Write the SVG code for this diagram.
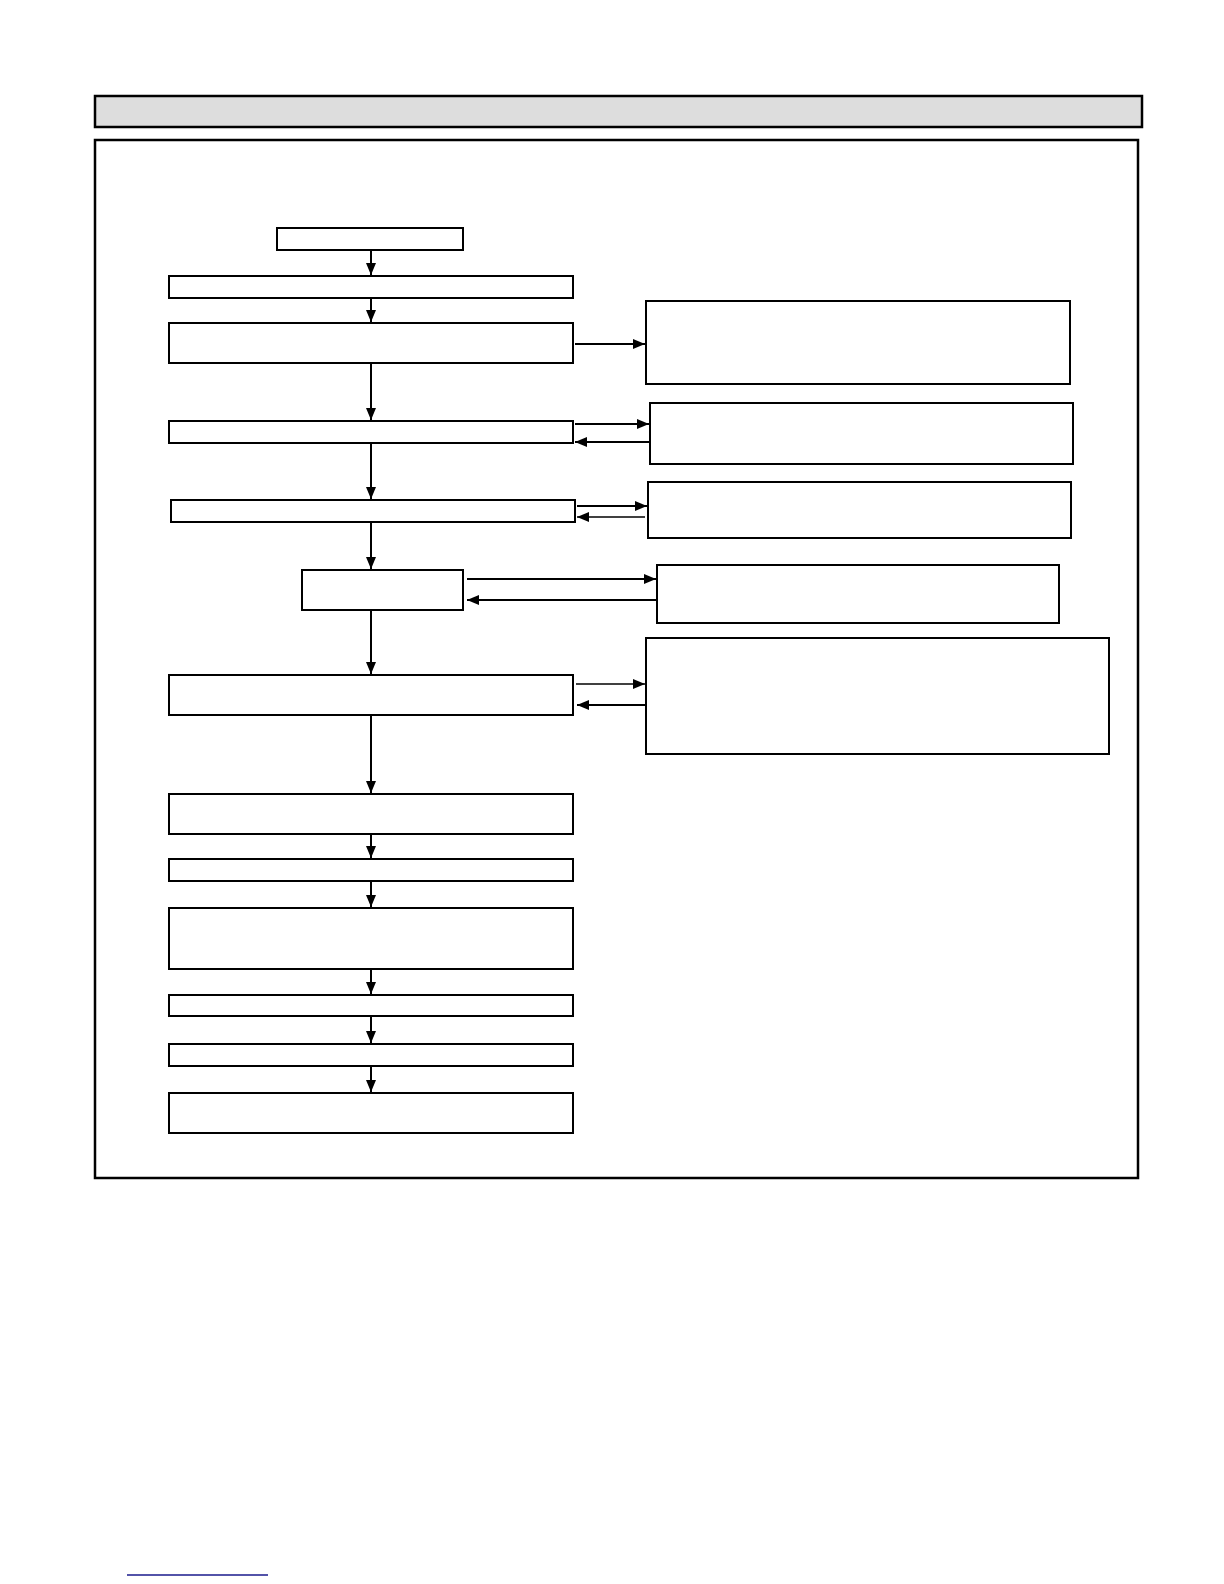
<svg xmlns="http://www.w3.org/2000/svg" width="1224" height="1584" viewBox="0 0 1224 1584">
<style>
.n{fill:#fff;stroke:#000;stroke-width:2}
.c{stroke:#000;stroke-width:2;fill:none;marker-end:url(#a)}
</style>
<defs><marker id="a" viewBox="0 0 10 10" refX="10" refY="5" markerWidth="6" markerHeight="6" markerUnits="userSpaceOnUse" orient="auto"><path d="M0,0L10,5L0,10z" fill="#000" transform="scale(1)"/></marker>
<marker id="b" viewBox="0 0 10 10" refX="10" refY="5" markerWidth="12" markerHeight="10" markerUnits="userSpaceOnUse" orient="auto" preserveAspectRatio="none"><path d="M0,0L10,5L0,10z" fill="#000"/></marker></defs>
<rect width="1224" height="1584" fill="#fff"/>
<rect x="95" y="96" width="1047" height="31" fill="#ddd" stroke="#000" stroke-width="2.5"/>
<rect x="95" y="140" width="1043" height="1038" fill="none" stroke="#000" stroke-width="2.5"/>
<g id="nA"><rect class="n" x="277" y="228" width="186" height="22"/></g>
<g id="nB"><rect class="n" x="169" y="276" width="404" height="22"/></g>
<g id="nC"><rect class="n" x="169" y="323" width="404" height="40"/></g>
<g id="nD"><rect class="n" x="169" y="421" width="404" height="22"/></g>
<g id="nE"><rect class="n" x="171" y="500" width="404" height="22"/></g>
<g id="nF"><rect class="n" x="302" y="570" width="161" height="40"/></g>
<g id="nG"><rect class="n" x="169" y="675" width="404" height="40"/></g>
<g id="nH"><rect class="n" x="169" y="794" width="404" height="40"/></g>
<g id="nI"><rect class="n" x="169" y="859" width="404" height="22"/></g>
<g id="nJ"><rect class="n" x="169" y="908" width="404" height="61"/></g>
<g id="nK"><rect class="n" x="169" y="995" width="404" height="21"/></g>
<g id="nL"><rect class="n" x="169" y="1044" width="404" height="22"/></g>
<g id="nM"><rect class="n" x="169" y="1093" width="404" height="40"/></g>
<g id="r1"><rect class="n" x="646" y="301" width="424" height="83"/></g>
<g id="r2"><rect class="n" x="650" y="403" width="423" height="61"/></g>
<g id="r3"><rect class="n" x="648" y="482" width="423" height="56"/></g>
<g id="r4"><rect class="n" x="657" y="565" width="402" height="58"/></g>
<g id="r5"><rect class="n" x="646" y="638" width="463" height="116"/></g>
<g id="connectors" stroke="#000" stroke-width="2" fill="none">
<path d="M371,250V275" marker-end="url(#b)"/>
<path d="M371,298V322" marker-end="url(#b)"/>
<path d="M371,363V420" marker-end="url(#b)"/>
<path d="M371,443V499" marker-end="url(#b)"/>
<path d="M371,522V569" marker-end="url(#b)"/>
<path d="M371,610V674" marker-end="url(#b)"/>
<path d="M371,715V793" marker-end="url(#b)"/>
<path d="M371,834V858" marker-end="url(#b)"/>
<path d="M371,881V907" marker-end="url(#b)"/>
<path d="M371,969V994" marker-end="url(#b)"/>
<path d="M371,1016V1043" marker-end="url(#b)"/>
<path d="M371,1066V1092" marker-end="url(#b)"/>
<path d="M575,344H645" marker-end="url(#b)"/>
<path d="M575,424H649" marker-end="url(#b)"/>
<path d="M649,442H575" marker-end="url(#b)"/>
<path d="M577,506H647" marker-end="url(#b)"/>
<path d="M645,517H577" stroke-width="1.5" marker-end="url(#b)"/>
<path d="M467,579H656" marker-end="url(#b)"/>
<path d="M657,600H467" marker-end="url(#b)"/>
<path d="M576,684H645" stroke-width="1.5" marker-end="url(#b)"/>
<path d="M646,705H577" marker-end="url(#b)"/>
</g>
<line x1="127" y1="1575" x2="268" y2="1575" stroke="#1a1a8c" stroke-width="1.5"/>
</svg>
